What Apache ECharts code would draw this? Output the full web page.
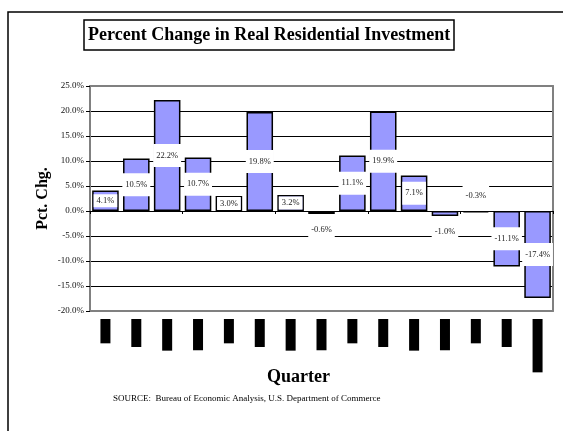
<!DOCTYPE html>
<html>
<head>
<meta charset="utf-8">
<script src="https://cdn.jsdelivr.net/npm/echarts@6/dist/echarts.min.js"></script>
<style>
html,body{margin:0;padding:0;background:#fff;}
#chart{width:563px;height:431px;}
</style>
</head>
<body>
<div id="chart"></div>
<script>
var categories = ['I-03','II-03','III-03','IV-03','I-04','II-04','III-04','IV-04','I-05','II-05','III-05','IV-05','I-06','II-06','III-06 Adv'];
var values = [4.1, 10.5, 22.2, 10.7, 3.0, 19.8, 3.2, -0.6, 11.1, 19.9, 7.1, -1.0, -0.3, -11.1, -17.4];
var yTicks = {min: -20, max: 25, step: 5};
var titleText = 'Percent Change in Real Residential Investment';
var yTitle = 'Pct. Chg.';
var xTitle = 'Quarter';
var sourceText = 'SOURCE:  Bureau of Economic Analysis, U.S. Department of Commerce';

var serif = '"Liberation Serif", "Times New Roman", serif';
var frameGray = '#808080';

var seriesData = values.map(function (v) {
  var lab = {};
  if (v < 0 && v > -0.5) {
    lab = {position: 'top', distance: 4};
  } else if (v < 0 && v > -5) {
    lab = {position: 'bottom', distance: 4};
  } else if (v > 0 && v < 5) {
    lab = {padding: [2, 3]};
  }
  return {value: v, label: lab};
});

var nLines = (yTicks.max - yTicks.min) / yTicks.step + 1;
var splitColors = [];
for (var i = 0; i < nLines; i++) {
  splitColors.push(i === 0 || i === nLines - 1 ? 'rgba(0,0,0,0)' : '#000');
}

var chart = echarts.init(document.getElementById('chart'), null, {renderer: 'canvas'});
chart.setOption({
  animation: false,
  backgroundColor: '#fff',
  graphic: [{
    type: 'rect',
    shape: {x: 8, y: 12, width: 700, height: 600},
    style: {fill: 'none', stroke: '#000', lineWidth: 1.5},
    z: -1
  }],
  title: [{
    text: titleText,
    left: 84, top: 20,
    padding: [6, 4, 6, 4],
    borderColor: '#000', borderWidth: 1.5,
    textStyle: {fontFamily: serif, fontWeight: 'bold', fontSize: 18, color: '#000'}
  }, {
    text: xTitle,
    left: 267, top: 368, padding: 0,
    textStyle: {fontFamily: serif, fontWeight: 'bold', fontSize: 18, color: '#000'}
  }, {
    text: sourceText,
    left: 113, top: 394, padding: 0,
    textStyle: {fontFamily: serif, fontWeight: 'normal', fontSize: 9, color: '#000'}
  }],
  grid: {
    left: 90, right: 10, top: 86, bottom: 120
  },
  xAxis: [{
    type: 'category', data: categories, position: 'bottom',
    axisLine: {onZero: true, lineStyle: {color: '#000', width: 1}},
    axisTick: {show: true, length: 3, lineStyle: {color: '#000'}},
    axisLabel: {show: false},
    splitLine: {show: false},
    z: 4
  }, {
    type: 'category', data: categories, position: 'bottom',
    axisLine: {show: true, onZero: false, lineStyle: {color: frameGray, width: 2}},
    axisTick: {show: false},
    axisLabel: {
      show: true, rotate: 90, margin: 8, interval: 0,
      formatter: function (v) { return '{b|' + v + '}'; },
      rich: {b: {color: '#000', backgroundColor: '#000', fontFamily: serif, fontSize: 11, lineHeight: 10, height: 10, padding: [0, 3]}}
    }
  }, {
    type: 'category', data: categories, position: 'top',
    axisLine: {show: true, onZero: false, lineStyle: {color: frameGray, width: 2}},
    axisTick: {show: false},
    axisLabel: {show: false}
  }],
  yAxis: [{
    type: 'value', min: yTicks.min, max: yTicks.max, interval: yTicks.step, position: 'left',
    name: yTitle, nameLocation: 'middle', nameGap: 39, nameMoveOverlap: false,
    nameTextStyle: {fontFamily: serif, fontWeight: 'bold', fontSize: 16, color: '#000'},
    axisLine: {show: true, onZero: false, lineStyle: {color: frameGray, width: 2}},
    axisTick: {show: true, length: 4, lineStyle: {color: '#000'}},
    axisLabel: {
      fontFamily: serif, fontSize: 9, color: '#111', margin: 6,
      formatter: function (v) { return v.toFixed(1) + '%'; }
    },
    splitLine: {show: true, lineStyle: {color: splitColors, width: 1}}
  }, {
    type: 'value', min: yTicks.min, max: yTicks.max, interval: yTicks.step, position: 'right',
    axisLine: {show: true, onZero: false, lineStyle: {color: frameGray, width: 2}},
    axisTick: {show: false},
    axisLabel: {show: false},
    splitLine: {show: false}
  }],
  series: [{
    type: 'bar', xAxisIndex: 0, yAxisIndex: 0, data: seriesData,
    barWidth: '86%',
    itemStyle: {color: '#9999FF', borderColor: '#000', borderWidth: 1.5},
    label: {
      show: true, position: 'inside',
      formatter: function (p) { return p.value.toFixed(1) + '%'; },
      fontFamily: serif, fontSize: 8.5, color: '#222',
      backgroundColor: '#fff', padding: [7, 3]
    },
    z: 3
  }]
});
</script>
</body>
</html>
